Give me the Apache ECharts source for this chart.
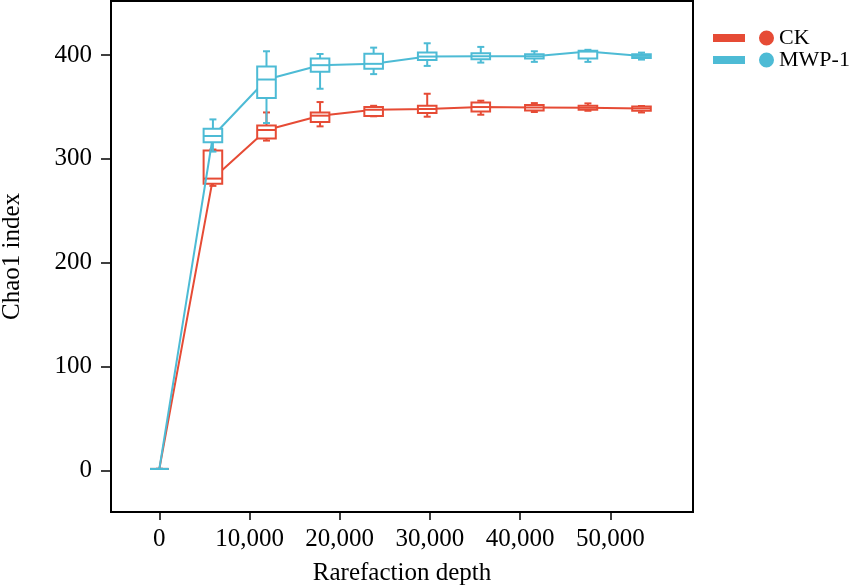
<!DOCTYPE html>
<html>
<head>
<meta charset="utf-8">
<script src="https://cdn.jsdelivr.net/npm/echarts@6/dist/echarts.min.js"></script>
<style>
html,body{margin:0;padding:0;background:#fff;}
#chart{width:854px;height:587px;}
</style>
</head>
<body>
<div id="chart"></div>
<script>
// rarefaction depth of each box
var depth = [0, 5940, 11880, 17820, 23760, 29700, 35640, 41580, 47520, 53460];
// [min, Q1, median, Q3, max]
var ckBox = [
	[1.5, 1.5, 1.5, 1.5, 1.5],
	[274, 276, 281, 308, 309],
	[317.6, 319.5, 327.8, 332.2, 344.7],
	[331.3, 335.5, 341.6, 344.7, 354.7],
	[341, 341.3, 347.3, 349.9, 351.1],
	[340.6, 344.1, 348, 351.1, 362.7],
	[342.5, 345.7, 349.9, 354.3, 356],
	[345.1, 346.6, 349.5, 351.8, 353.7],
	[346.3, 347.3, 349.2, 351.1, 353.4],
	[344.7, 346.3, 348.6, 350.5, 350.9]
];
var mwpBox = [
	[1.5, 1.5, 1.5, 1.5, 1.5],
	[307, 316, 322, 329, 338],
	[334.5, 358.5, 376.4, 389, 403.6],
	[367.5, 383.8, 390.2, 396.6, 401],
	[381.6, 386.7, 391.5, 401.3, 407.1],
	[389.5, 395.3, 398.5, 402.3, 411.3],
	[392.7, 396, 398.8, 401.7, 407.8],
	[393.4, 396.6, 398.8, 400.8, 403.6],
	[393.4, 396.6, 403.3, 404, 405],
	[395.6, 397.2, 399.1, 400.8, 402.3]
];
var xTicks = [0, 10000, 20000, 30000, 40000, 50000];
var yTicks = [0, 100, 200, 300, 400];
var groupNames = ['CK', 'MWP-1'];
var groupColors = ['#E64B35', '#4DBBD5'];

var FONT = 'Liberation Serif';

function boxRows(box){
	var rows = [];
	for(var i=0;i<box.length;i++){
		rows.push([depth[i]].concat(box[i]));
	}
	return rows;
}
function medianRows(box){
	var rows = [];
	for(var i=0;i<box.length;i++){
		rows.push([depth[i], box[i][2]]);
	}
	return rows;
}

//画箱线
function makeRender(color){
	return function(params, api){
		var x = api.value(0);
		var pMin = api.coord([x, api.value(1)]);
		var pQ1 = api.coord([x, api.value(2)]);
		var pMed = api.coord([x, api.value(3)]);
		var pQ3 = api.coord([x, api.value(4)]);
		var pMax = api.coord([x, api.value(5)]);
		var cx = pMed[0];
		var hw = 9.3, cw = 3.5;
		var ls = {stroke: color, lineWidth: 2, fill: null};
		return {
			type: 'group',
			children: [
				{type:'line', shape:{x1:cx, y1:pMax[1], x2:cx, y2:pQ3[1]}, style:ls},
				{type:'line', shape:{x1:cx-cw, y1:pMax[1], x2:cx+cw, y2:pMax[1]}, style:ls},
				{type:'line', shape:{x1:cx, y1:pQ1[1], x2:cx, y2:pMin[1]}, style:ls},
				{type:'line', shape:{x1:cx-cw, y1:pMin[1], x2:cx+cw, y2:pMin[1]}, style:ls},
				{type:'rect', shape:{x:cx-hw, y:pQ3[1], width:hw*2, height:pQ1[1]-pQ3[1]},
					style:{stroke: color, lineWidth: 2, fill: '#fff'}},
				{type:'line', shape:{x1:cx-hw, y1:pMed[1], x2:cx+hw, y2:pMed[1]}, style:ls}
			]
		};
	};
}

var boxes = [ckBox, mwpBox];
var series = [];
for(var g=0; g<2; g++){
	series.push({
		name: groupNames[g],
		type: 'line',
		data: medianRows(boxes[g]),
		showSymbol: false,
		symbol: 'none',
		lineStyle: {color: groupColors[g], width: 2},
		itemStyle: {color: groupColors[g]},
		z: 2 + g*2
	});
}
for(var g=0; g<2; g++){
	series.push({
		name: groupNames[g],
		type: 'custom',
		data: boxRows(boxes[g]),
		encode: {x: 0, y: [1,2,3,4,5]},
		renderItem: makeRender(groupColors[g]),
		itemStyle: {color: groupColors[g]},
		z: 3 + g*2
	});
}

var chart = echarts.init(document.getElementById('chart'));
var option = {
	animation: false,
	backgroundColor: '#fff',
	color: groupColors,
	textStyle: {fontFamily: FONT},
	grid: {
		left: 111, right: 161, top: 1, bottom: 75,
		containLabel: false,
		outerBoundsMode: 'none',
		show: true, borderColor: '#000', borderWidth: 2, backgroundColor: 'transparent'
	},
	legend: {
		data: groupNames,
		orient: 'vertical',
		left: 713,
		top: 27,
		padding: 0,
		itemWidth: 61,
		itemHeight: 15,
		itemGap: 0,
		icon: 'path://M0,3.5h32v8h-32z M46,7.5a7.5,7.5 0 1,0 15,0a7.5,7.5 0 1,0 -15,0z',
		itemStyle: {borderWidth: 0},
		textStyle: {fontFamily: FONT, fontSize: 22, color: '#000'}
	},
	xAxis: {
		type: 'value',
		min: -5360,
		max: 59170,
		name: 'Rarefaction depth',
		nameLocation: 'middle',
		nameGap: 49,
		nameTextStyle: {fontFamily: FONT, fontSize: 25, color: '#000'},
		axisLine: {show: true, onZero: false, lineStyle: {color: '#000', width: 2}},
		axisTick: {show: true, length: 8, lineStyle: {color: '#000', width: 1.5}, customValues: xTicks},
		axisLabel: {
			fontFamily: FONT, fontSize: 25, color: '#000', margin: 15,
			customValues: xTicks,
			formatter: function(v){ return echarts.format.addCommas(v); }
		},
		splitLine: {show: false}
	},
	yAxis: {
		type: 'value',
		min: -40,
		max: 452,
		name: 'Chao1 index',
		nameLocation: 'middle',
		nameGap: 86,
		nameTextStyle: {fontFamily: FONT, fontSize: 25, color: '#000'},
		axisLine: {show: true, onZero: false, lineStyle: {color: '#000', width: 2}},
		axisTick: {show: true, length: 10, lineStyle: {color: '#000', width: 1.5}, customValues: yTicks},
		axisLabel: {fontFamily: FONT, fontSize: 25, color: '#000', margin: 19, customValues: yTicks},
		splitLine: {show: false}
	},
	series: series
};
chart.setOption(option);
</script>
</body>
</html>
